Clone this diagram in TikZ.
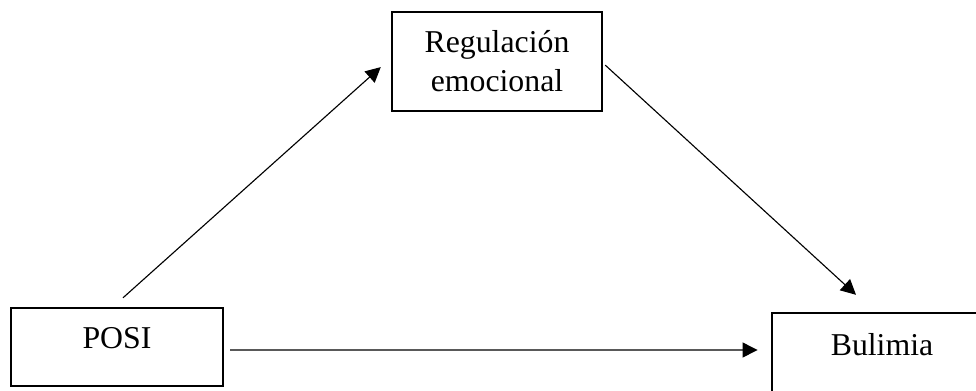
\documentclass[tikz,border=0pt]{standalone}
\usepackage{fontspec}
\setmainfont{Liberation Serif}
\usetikzlibrary{arrows.meta}
\begin{document}
\begin{tikzpicture}[x=0.025cm, y=-0.025cm,
        box/.style={draw, line width=1.7pt, font=\fontsize{22.6}{27.7}\selectfont, align=center},
        onebox/.style={box, text depth=0.45cm},
        arr/.style={line width=0.8pt, -{Triangle[length=10.7pt, width=10.7pt]}}]
            \useasboundingbox (0,0) rectangle (976,390);
            \clip (0,0) rectangle (976,390);

            \node (posi) at (117,347) [onebox, minimum width=5.3cm, minimum height=1.95cm] {POSI};
            \node (reg) at (497,61.5) [box, minimum width=5.25cm, minimum height=2.475cm] {Regulación\\emocional};
            \node (bul) at (882,353) [onebox, minimum width=5.5cm, minimum height=2cm] {Bulimia};

            \draw[arr] ([xshift=0.15cm, yshift=0.225cm]posi.north) -- ([xshift=-0.25cm, yshift=-0.14cm]reg.west);
            \draw[arr] ([xshift=0.15cm, yshift=-0.075cm]posi.east) -- ([xshift=-0.33cm, yshift=0.075cm]bul.west);
            \draw[arr] ([xshift=0.05cm, yshift=-0.09cm]reg.east) -- ([xshift=-0.65cm, yshift=0.425cm]bul.north);
        \end{tikzpicture}
\end{document}
